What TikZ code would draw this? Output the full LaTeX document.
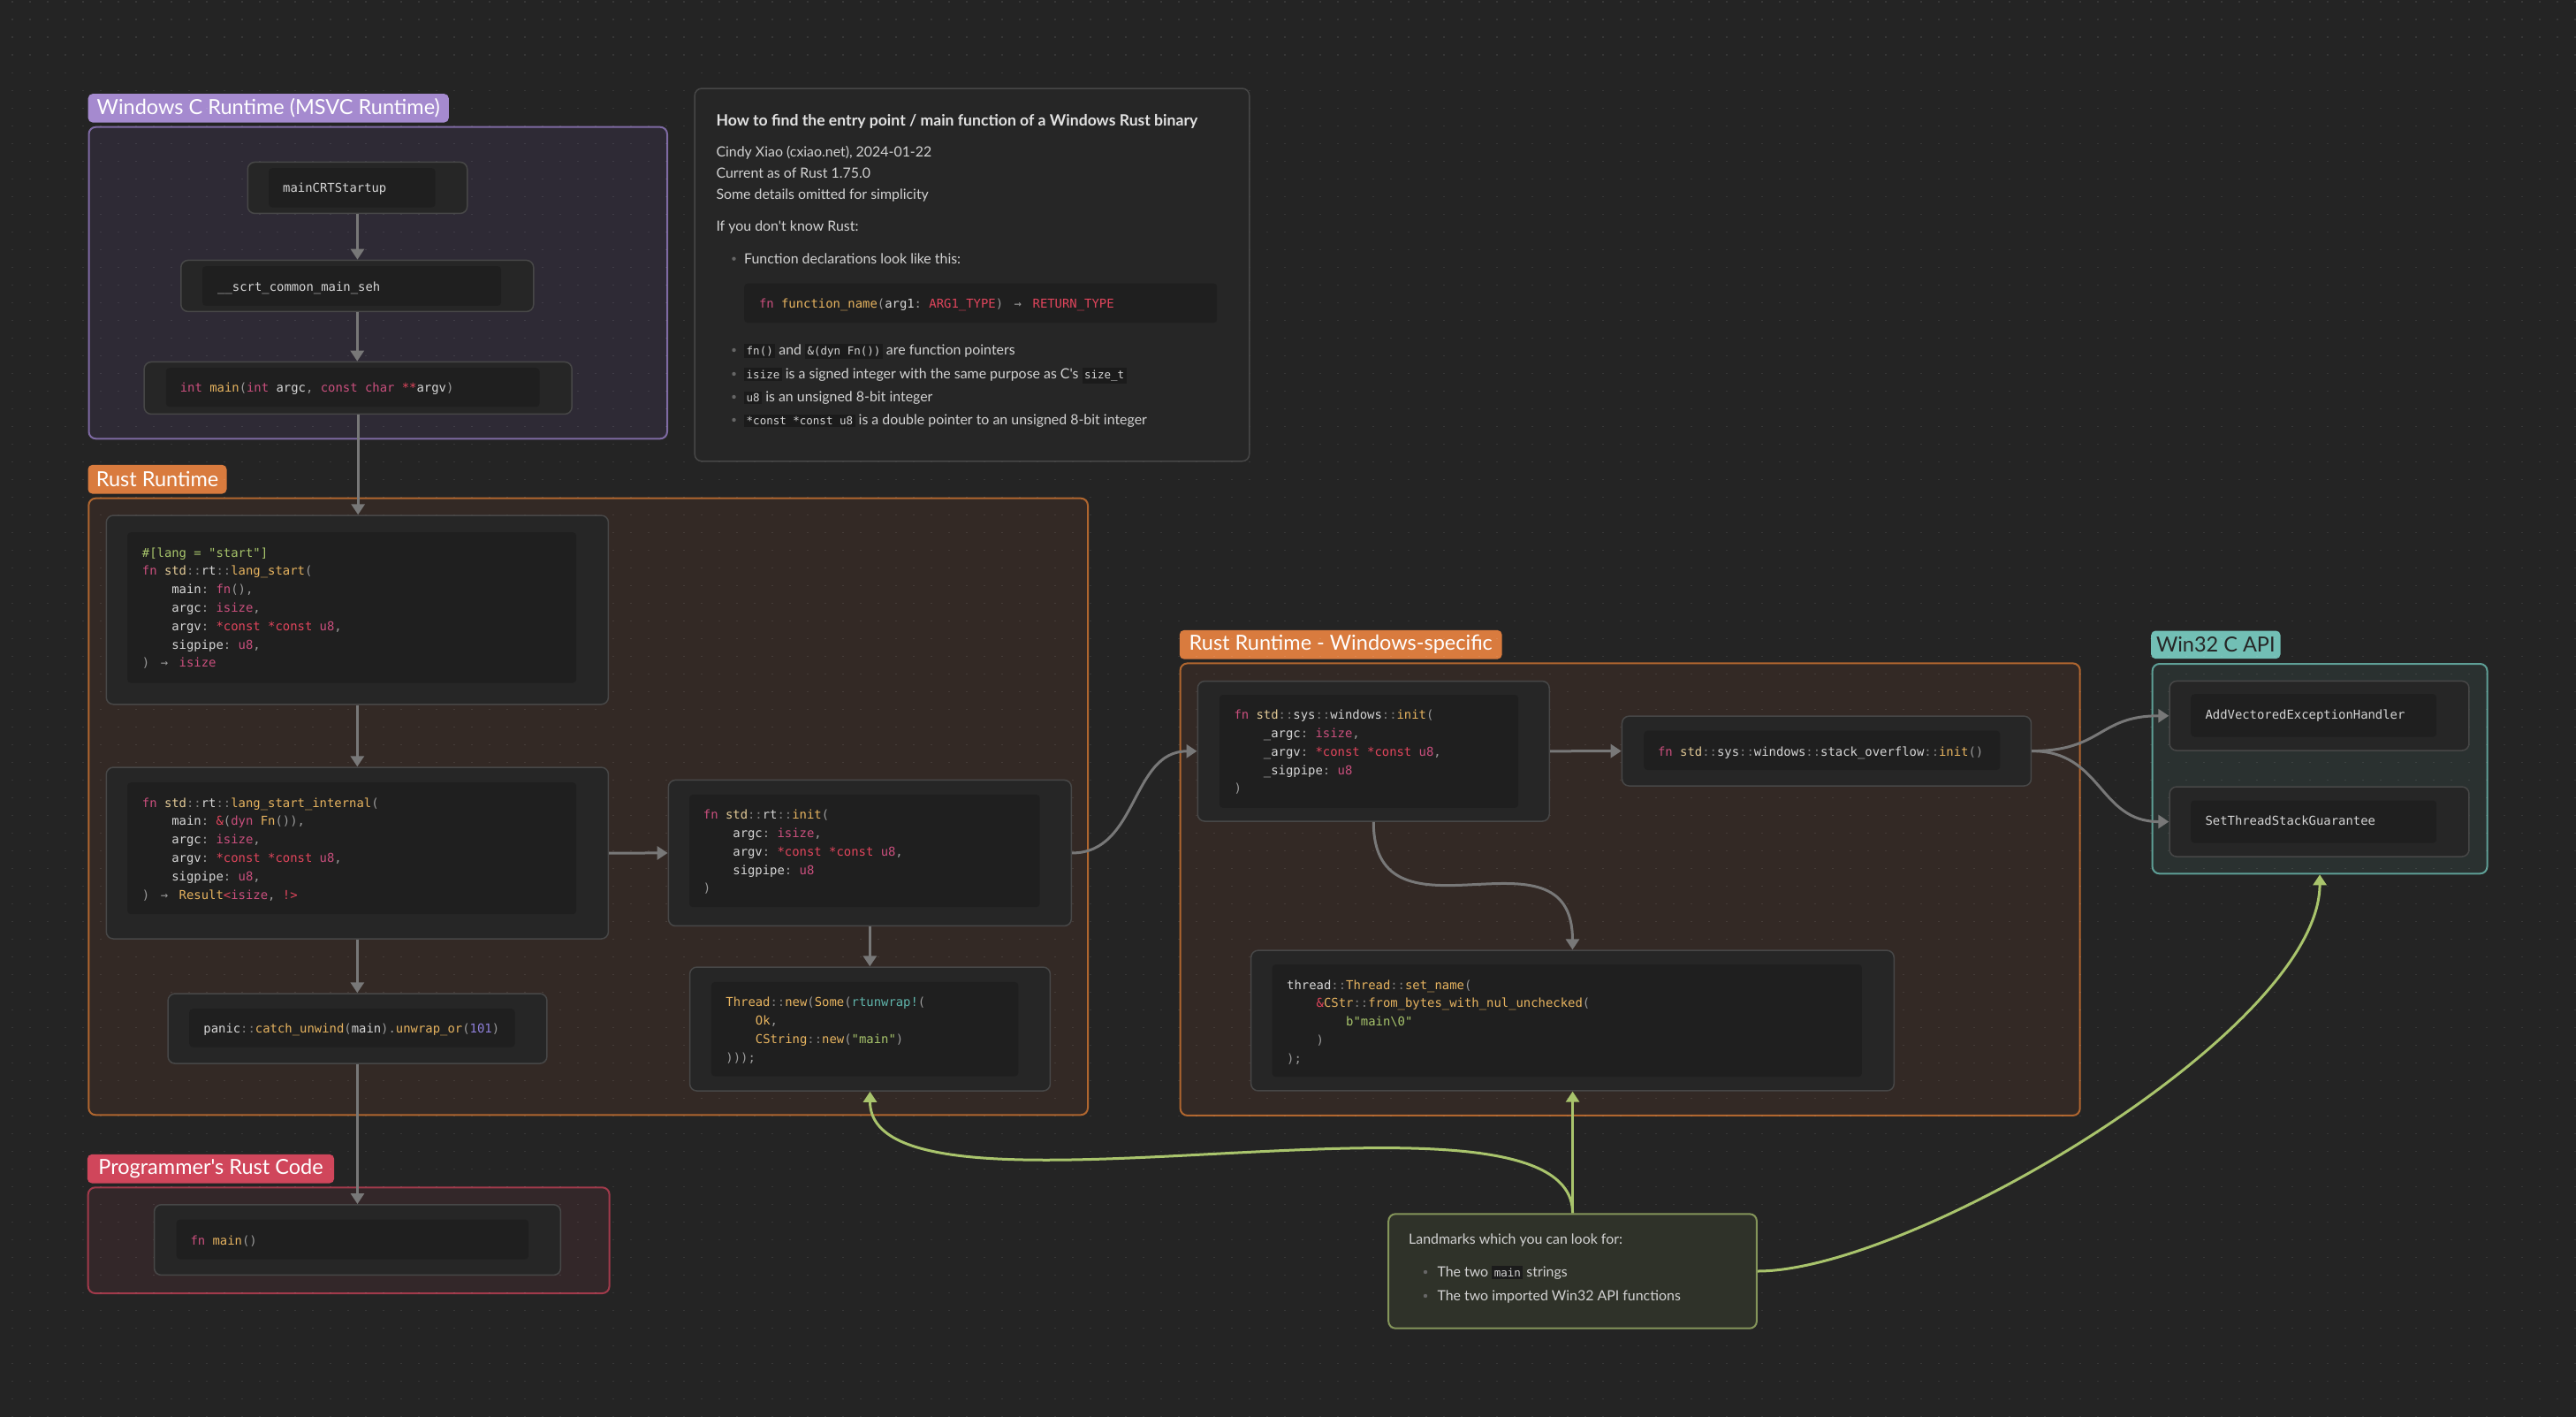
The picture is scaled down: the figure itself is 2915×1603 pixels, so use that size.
\documentclass[tikz,border=0pt]{standalone}
\usepackage{fontspec}
\setmainfont{Lato}[Ligatures=TeXOff]
\setmonofont{DejaVu Sans Mono}
\usetikzlibrary{arrows.meta,calc}
\definecolor{bgc}{HTML}{242424}
\definecolor{cardc}{HTML}{262626}
\definecolor{cardb}{HTML}{474747}
\definecolor{codebg}{HTML}{1F1F1F}
\definecolor{icbg}{HTML}{1B1B1B}
\definecolor{purF}{HTML}{2E2A35}
\definecolor{purB}{HTML}{7E6AA3}
\definecolor{purBadge}{HTML}{A58ACF}
\definecolor{oraF}{HTML}{332925}
\definecolor{oraB}{HTML}{B0662F}
\definecolor{oraBadge}{HTML}{D97B3E}
\definecolor{redF}{HTML}{332729}
\definecolor{redB}{HTML}{A13A4B}
\definecolor{redBadge}{HTML}{D0465B}
\definecolor{teaF}{HTML}{2A3130}
\definecolor{teaB}{HTML}{5E9F96}
\definecolor{teaBadge}{HTML}{72BFB5}
\definecolor{landF}{HTML}{2F3229}
\definecolor{landB}{HTML}{84955A}
\definecolor{arrgrey}{HTML}{787878}
\definecolor{greenc}{HTML}{A9C46C}
\definecolor{cplain}{HTML}{D6D6D6}
\definecolor{ckw}{HTML}{C94F7D}
\definecolor{cptr}{HTML}{E0455C}
\definecolor{cpun}{HTML}{9A9A9A}
\definecolor{cfn}{HTML}{E6B35F}
\definecolor{cty}{HTML}{E6B35F}
\definecolor{cstr}{HTML}{A7C46B}
\definecolor{cnum}{HTML}{8F80DB}
\definecolor{cmac}{HTML}{5FB3AA}
\definecolor{cpath}{HTML}{E1C895}
\definecolor{csep}{HTML}{7C7C7C}
\definecolor{textc}{HTML}{D2D2D2}
\definecolor{titlec}{HTML}{E2E2E2}
\definecolor{bulletc}{HTML}{666666}
\newcommand\qKw[1]{\textcolor{ckw}{#1}}
\newcommand\qFn[1]{\textcolor{cfn}{#1}}
\newcommand\qPt[1]{\textcolor{cptr}{#1}}
\newcommand\qPu[1]{\textcolor{cpun}{#1}}
\newcommand\qTy[1]{\textcolor{cty}{#1}}
\newcommand\qSt[1]{\textcolor{cstr}{#1}}
\newcommand\qNm[1]{\textcolor{cnum}{#1}}
\newcommand\qMc[1]{\textcolor{cmac}{#1}}
\newcommand\qPa[1]{\textcolor{cpath}{#1}}
\newcommand\qSp{\textcolor{csep}{::}}
\newcommand\qI{\phantom{0000}}
\newcommand\qAr{\textcolor{cpun}{\makebox[1.204em][c]{→}}}
\newcommand\qIc[1]{{\setlength{\fboxsep}{2.5pt}\colorbox{icbg}{\ttfamily\fontsize{12.5}{14}\selectfont\textcolor{cplain}{#1}}}}
\newcommand\codefont{\ttfamily\fontsize{13.9}{20.8}\selectfont}
\newcommand\bodyfont{\fontsize{15.9}{19}\selectfont}
\begin{document}
\begin{tikzpicture}[x=1pt,y=-1pt,
  grp/.style={draw, line width=2pt, rounded corners=8pt, anchor=north west, inner sep=0pt},
  badge/.style={rounded corners=5pt, anchor=north west, inner sep=0pt, text=white, font=\fontsize{23.5}{28}\selectfont},
  card/.style={draw=cardb, fill=cardc, line width=1.5pt, rounded corners=8pt, anchor=north west, inner sep=0pt},
  codebox/.style={fill=codebg, rounded corners=4pt, anchor=north west, inner sep=0pt},
  codeml/.style={anchor=north west, inner sep=0pt, align=left, text=cplain, font=\codefont, execute at begin node=\strut, yshift=-5pt},
  codesl/.style={anchor=west, inner sep=0pt, text=cplain, font=\codefont, execute at begin node=\strut, yshift=-1.5pt},
  body/.style={anchor=base west, inner sep=0pt, text=textc, font=\bodyfont},
  garr/.style={draw=arrgrey, line width=3pt, -{Triangle[length=12pt,width=15pt]}},
  grarr/.style={draw=greenc, line width=3pt, -{Triangle[length=12pt,width=15pt]}}
]
\fill[bgc] (0,0) rectangle (2915,1603);
\useasboundingbox (0,0) rectangle (2915,1603);

% ---------- group frames ----------
\node[grp, draw=purB, fill=purF, minimum width=654.5pt, minimum height=352.6pt] (gcrt) at (99.5,142.7) {};
\node[badge, fill=purBadge, minimum width=408.1pt, minimum height=32.3pt] (bcrt) at (99.5,106) {Windows C Runtime (MSVC Runtime)};
\node[grp, draw=oraB, fill=oraF, minimum width=1130.7pt, minimum height=697.6pt] (grust) at (99.3,562.7) {};
\node[badge, fill=oraBadge, minimum width=157pt, minimum height=32.6pt] (brust) at (99.3,525.7) {Rust Runtime};
\node[grp, draw=oraB, fill=oraF, minimum width=1018.1pt, minimum height=511.5pt] (gwin) at (1334.6,749.4) {};
\node[badge, fill=oraBadge, minimum width=364.8pt, minimum height=32.7pt] (bwin) at (1334.6,712.7) {Rust Runtime - Windows-specific};
\node[grp, draw=teaB, fill=teaF, minimum width=378.9pt, minimum height=237.3pt] (gapi) at (2434.6,750) {};
\node[badge, fill=teaBadge, text=black!85, minimum width=146.3pt, minimum height=31.7pt] (bapi) at (2434,713.3) {Win32 C API};
\node[grp, draw=redB, fill=redF, minimum width=589.9pt, minimum height=119.7pt] (gprog) at (98.7,1342.3) {};
\node[badge, fill=redBadge, minimum width=279.2pt, minimum height=32.6pt] (bprog) at (98.7,1305.7) {Programmer's Rust Code};

% ---------- canvas dots ----------
\foreach \i in {0,...,80}
  \draw[white, opacity=0.09, line width=1.6pt, dash pattern=on 1.6pt off 18.4pt] (13.2,2.3+20*\i) -- (2915,2.3+20*\i);

% ---------- Windows C runtime ----------
\node[card, minimum width=248.5pt, minimum height=58pt] (crt) at (279.5,182.7) {};
\node[codebox, minimum width=188.7pt, minimum height=44.3pt] (crtin) at (303.8,190) {};
\node[codesl] (crtt) at (320,212.3) {mainCRTStartup};
\node[card, minimum width=399pt, minimum height=58pt] (scrt) at (204,293.7) {};
\node[codebox, minimum width=338.2pt, minimum height=44.7pt] (scrtin) at (228.8,301) {};
\node[codesl] (scrtt) at (246,323.7) {\_\_scrt\_common\_main\_seh};
\node[card, minimum width=484pt, minimum height=59pt] (cmain) at (162.4,408.7) {};
\node[codebox, minimum width=422.8pt, minimum height=44pt] (cmainin) at (187.6,416) {};
\node[codesl] (cmaint) at (203.6,438.3) {\qKw{int} \qFn{main}\qPu{(}\qKw{int} argc\qPu{,} \qKw{const} \qKw{char} \qPt{**}argv\qPu{)}};

% ---------- info card ----------
\node[card, minimum width=627.6pt, minimum height=421.7pt] (info) at (785.4,99.3) {};
\node[body, text=titlec, font=\fontsize{17.6}{21}\selectfont\bfseries] (infot) at (810.3,142.5) {How to find the entry point / main function of a Windows Rust binary};
\node[body] (info1) at (810.3,177.3) {Cindy Xiao (cxiao.net), 2024-01-22};
\node[body] (info2) at (810.3,201.3) {Current as of Rust 1.75.0};
\node[body] (info3) at (810.3,225.6) {Some details omitted for simplicity};
\node[body] (info4) at (810.3,261.6) {If you don't know Rust:};
\node[body] (infob1) at (842,298.3) {Function declarations look like this:};
\node[codebox, minimum width=535pt, minimum height=44.7pt] (infocode) at (842,320.3) {};
\node[codesl] (infocodet) at (858.8,343.3) {\qKw{fn} \qFn{function\_name}\qPu{(}arg1\qPu{:} \qPt{ARG1\_TYPE}\qPu{)} \qAr{} \qPt{RETURN\_TYPE}};
\node[body] (infob2) at (842,401.3) {\qIc{fn()} and \qIc{\&(dyn Fn())} are function pointers};
\node[body] (infob3) at (842,428.3) {\qIc{isize} is a signed integer with the same purpose as C's \qIc{size\_t}};
\node[body] (infob4) at (842,454.3) {\qIc{u8} is an unsigned 8-bit integer};
\node[body] (infob5) at (842,480.3) {\qIc{*const *const u8} is a double pointer to an unsigned 8-bit integer};
\foreach \yy in {292.7,396,423,449,475}
  \fill[bulletc] (830.5,\yy) circle (2.2pt);

% ---------- Rust runtime ----------
\node[card, minimum width=568.2pt, minimum height=213.7pt] (lstart) at (119.5,582.3) {};
\node[codebox, minimum width=508pt, minimum height=170.3pt] (lstartin) at (143.9,602) {};
\node[codeml] (lstartt) at (160.7,614.3) {\qSt{\#[lang = "start"]}\\
\qKw{fn} \qPa{std}\qSp rt\qSp\qFn{lang\_start}\qPu{(}\\
\qI main\qPu{:} \qKw{fn}\qPu{(),}\\
\qI argc\qPu{:} \qKw{isize}\qPu{,}\\
\qI argv\qPu{:} \qPt{*const *const} \qKw{u8}\qPu{,}\\
\qI sigpipe\qPu{:} \qKw{u8}\qPu{,}\\
\qPu{)} \qAr{} \qKw{isize}};

\node[card, minimum width=568.2pt, minimum height=194pt] (lsi) at (119.5,867.3) {};
\node[codebox, minimum width=508pt, minimum height=149pt] (lsiin) at (143.9,885) {};
\node[codeml] (lsit) at (160.7,897.3) {\qKw{fn} \qPa{std}\qSp rt\qSp\qFn{lang\_start\_internal}\qPu{(}\\
\qI main\qPu{:} \qPt{\&}\qPu{(}\qKw{dyn} \qTy{Fn}\qPu{()),}\\
\qI argc\qPu{:} \qKw{isize}\qPu{,}\\
\qI argv\qPu{:} \qPt{*const *const} \qKw{u8}\qPu{,}\\
\qI sigpipe\qPu{:} \qKw{u8}\qPu{,}\\
\qPu{)} \qAr{} \qTy{Result}\qPt{<}\qKw{isize}\qPu{,} \qPt{!>}};

\node[card, minimum width=428.9pt, minimum height=79pt] (panic) at (189.3,1123.3) {};
\node[codebox, minimum width=368.5pt, minimum height=43.3pt] (panicin) at (214,1141) {};
\node[codesl] (panict) at (230.2,1163.3) {panic\qSp\qFn{catch\_unwind}\qPu{(}main\qPu{).}\qFn{unwrap\_or}\qPu{(}\qNm{101}\qPu{)}};

\node[card, minimum width=456pt, minimum height=165pt] (rinit) at (755.6,881.7) {};
\node[codebox, minimum width=396.6pt, minimum height=127.3pt] (rinitin) at (779.8,898.7) {};
\node[codeml] (rinitt) at (795.7,910.9) {\qKw{fn} \qPa{std}\qSp rt\qSp\qFn{init}\qPu{(}\\
\qI argc\qPu{:} \qKw{isize}\qPu{,}\\
\qI argv\qPu{:} \qPt{*const *const} \qKw{u8}\qPu{,}\\
\qI sigpipe\qPu{:} \qKw{u8}\\
\qPu{)}};

\node[card, minimum width=407.9pt, minimum height=140pt] (thr) at (779.8,1093.3) {};
\node[codebox, minimum width=347.5pt, minimum height=106.6pt] (thrin) at (804.7,1110.7) {};
\node[codeml] (thrt) at (821.2,1122.9) {\qTy{Thread}\qSp\qFn{new}\qPu{(}\qTy{Some}\qPu{(}\qMc{rtunwrap!}\qPu{(}\\
\qI\qTy{Ok}\qPu{,}\\
\qI\qTy{CString}\qSp\qFn{new}\qPu{(}\qSt{"main"}\qPu{)}\\
\qPu{)));}};

% ---------- Rust runtime - Windows ----------
\node[card, minimum width=398pt, minimum height=158.5pt] (winit) at (1354.5,769.8) {};
\node[codebox, minimum width=338.3pt, minimum height=127.9pt] (winitin) at (1379.7,785.8) {};
\node[codeml] (winitt) at (1396.3,797.9) {\qKw{fn} \qPa{std}\qSp sys\qSp windows\qSp\qFn{init}\qPu{(}\\
\qI\_argc\qPu{:} \qKw{isize}\qPu{,}\\
\qI\_argv\qPu{:} \qPt{*const *const} \qKw{u8}\qPu{,}\\
\qI\_sigpipe\qPu{:} \qKw{u8}\\
\qPu{)}};

\node[card, minimum width=463pt, minimum height=78.9pt] (stk) at (1834.7,809.4) {};
\node[codebox, minimum width=403.2pt, minimum height=44.3pt] (stkin) at (1860,826.5) {};
\node[codesl] (stkt) at (1875.9,849.4) {\qKw{fn} \qPa{std}\qSp sys\qSp windows\qSp stack\_overflow\qSp\qFn{init}\qPu{()}};

\node[card, minimum width=727.6pt, minimum height=158.8pt] (setn) at (1414.9,1074.4) {};
\node[codebox, minimum width=667.3pt, minimum height=127.2pt] (setnin) at (1439.4,1090.8) {};
\node[codeml] (setnt) at (1456,1103.3) {thread\qSp\qTy{Thread}\qSp\qFn{set\_name}\qPu{(}\\
\qI\qPt{\&}\qTy{CStr}\qSp\qFn{from\_bytes\_with\_nul\_unchecked}\qPu{(}\\
\qI\qI\qSt{b"main\textbackslash 0"}\\
\qI\qPu{)}\\
\qPu{);}};

% ---------- Win32 API ----------
\node[card, minimum width=338.9pt, minimum height=78.6pt] (ave) at (2454.3,769.7) {};
\node[codebox, minimum width=278pt, minimum height=48.3pt] (avein) at (2479,785) {};
\node[codesl] (avet) at (2495.3,808.3) {AddVectoredExceptionHandler};
\node[card, minimum width=338.9pt, minimum height=79pt] (stsg) at (2454.3,889.3) {};
\node[codebox, minimum width=278pt, minimum height=48pt] (stsgin) at (2479,905.3) {};
\node[codesl] (stsgt) at (2495.3,928.3) {SetThreadStackGuarantee};

% ---------- Programmer's code ----------
\node[card, minimum width=459.9pt, minimum height=79.7pt] (umain) at (173.8,1362) {};
\node[codebox, minimum width=398.5pt, minimum height=45pt] (umainin) at (199.5,1379.3) {};
\node[codesl] (umaint) at (215.3,1402.7) {\qKw{fn} \qFn{main}\qPu{()}};

% ---------- landmarks ----------
\node[card, draw=landB, fill=landF, line width=2pt, minimum width=416.7pt, minimum height=129.4pt] (land) at (1570.2,1372.3) {};
\node[body] (land1) at (1594,1407.8) {Landmarks which you can look for:};
\node[body] (land2) at (1626.3,1444.3) {The two \qIc{main} strings};
\node[body] (land3) at (1626.3,1471.3) {The two imported Win32 API functions};
\foreach \yy in {1439,1466}
  \fill[bulletc] (1613,\yy) circle (2.2pt);

% ---------- connectors ----------
\draw[garr] (crt.south) -- (crt.south |- scrt.north);
\draw[garr] (scrt.south) -- (scrt.south |- cmain.north);
\draw[garr] (cmain.south) -- (cmain.south |- lstart.north);
\draw[garr] (lstart.south) -- (lstart.south |- lsi.north);
\draw[garr] (lsi.south) -- (lsi.south |- panic.north);
\draw[garr] (panic.south) -- (panic.south |- umain.north);
\draw[garr] (lsi.east) -- (rinit.west);
\draw[garr] (rinit.south) -- (rinit.south |- thr.north);
\draw[garr] (rinit.east) .. controls ($(rinit.east)+(75,0)$) and ($(winit.west)+(-75,0)$) .. (winit.west);
\draw[garr] (winit.east) -- (stk.west);
\draw[garr] (stk.east) .. controls ($(stk.east)+(80,0)$) and ($(ave.west)+(-80,0)$) .. (ave.west);
\draw[garr] (stk.east) .. controls ($(stk.east)+(80,0)$) and ($(stsg.west)+(-80,0)$) .. (stsg.west);
\draw[garr] (winit.south) .. controls ($(winit.south)+(0,150)$) and ($(setn.north)+(0,-150)$) .. (setn.north);
\draw[grarr] (land.north) -- (land.north |- setn.south);
\draw[grarr] (land.north) .. controls ($(land.north)+(0,-173)$) and ($(thr.south)+(0,173)$) .. (thr.south);
\draw[grarr] (land.east) .. controls ($(land.east)+(175,0)$) and ($(gapi.south)+(0,175)$) .. (gapi.south);
\end{tikzpicture}
\end{document}
